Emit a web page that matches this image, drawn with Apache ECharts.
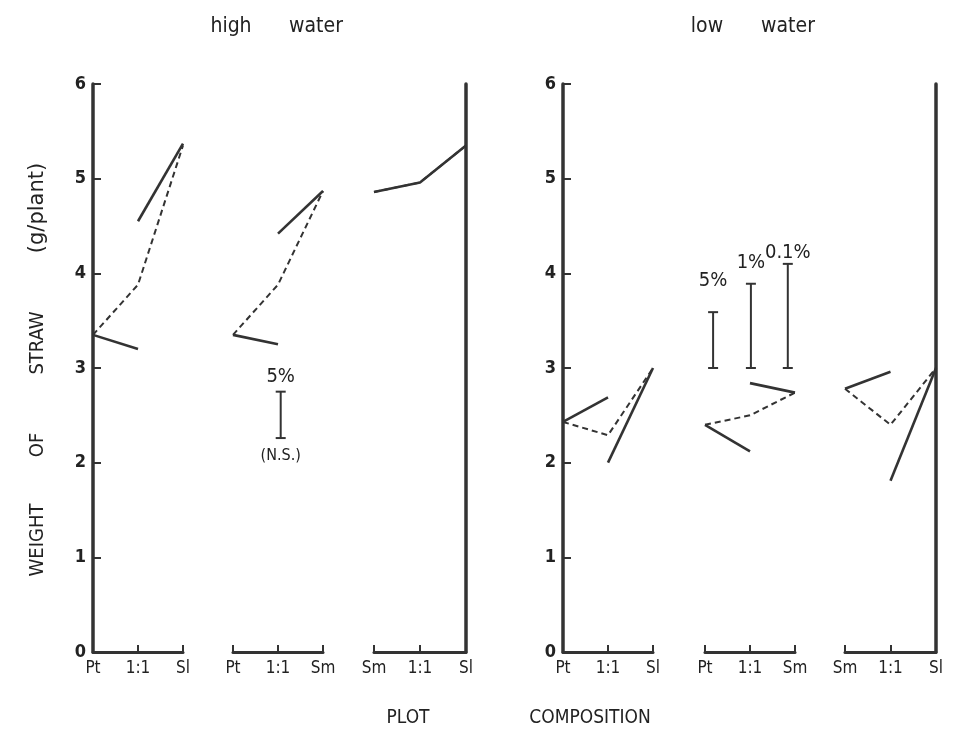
<!DOCTYPE html>
<html>
<head>
<meta charset="utf-8">
<script src="https://cdn.jsdelivr.net/npm/echarts@6/dist/echarts.min.js"></script>
<style>
html, body { margin: 0; padding: 0; background: #fff; }
#main { width: 954px; height: 742px; }
</style>
</head>
<body>
<div id="main"></div>
<script>
var compositions = [['Pt', '1:1', 'Sl'], ['Pt', '1:1', 'Sm'], ['Sm', '1:1', 'Sl']];
var yTicks = ['0', '1', '2', '3', '4', '5', '6'];

// high water, one row per composition group
var highDashed = [[3.35, 3.88, 5.35], [3.35, 3.88, 4.87], [4.86, 4.96, 5.35]];
var highSolidA = [[3.35, 3.20, null], [3.35, 3.25, null], [4.86, 4.96, 5.35]];
var highSolidB = [[null, 4.55, 5.37], [null, 4.42, 4.87], [null, null, null]];

// low water
var lowDashed = [[2.43, 2.29, 3.00], [2.40, 2.50, 2.74], [2.78, 2.40, 3.00]];
var lowSolidA = [[2.43, 2.69, null], [2.40, 2.12, null], [2.78, 2.96, null]];
var lowSolidB = [[null, 2.00, 3.00], [null, 2.84, 2.74], [null, 1.81, 3.00]];

// LSD bars (group, position along group, low, high, label, label level)
var highBars = [
	{ g: 1, x: 1.06, lo: 2.26, hi: 2.75, label: '5%', labelAt: 2.91, note: '(N.S.)', noteAt: 2.07 }
];
var lowBars = [
	{ g: 1, x: 0.18, lo: 3.00, hi: 3.59, label: '5%', labelAt: 3.92 },
	{ g: 1, x: 1.02, lo: 3.00, hi: 3.89, label: '1%', labelAt: 4.11 },
	{ g: 1, x: 1.84, lo: 3.00, hi: 4.10, label: '0.1%', labelAt: 4.22 }
];

var FONT = '"DejaVu Sans Condensed", "DejaVu Sans", sans-serif';
var INK = '#333';

// grid layout: left panel then right panel
var gridLeft = [93, 233, 374, 563, 705, 845];
var gridWidth = [90, 90, 92, 90, 90, 91];

var myChart = echarts.init(document.getElementById('main'));

var grids = [], xAxes = [], yAxes = [], series = [];

gridLeft.forEach(function (l, i) {
	var g = i % 3;
	grids.push({ left: l, width: gridWidth[i], top: 84, height: 568 });
	xAxes.push({
		type: 'value', gridIndex: i, min: 0, max: 2, interval: 1,
		axisLine: { show: true, onZero: false, lineStyle: { color: INK, width: 3 } },
		axisTick: { show: true, inside: true, length: 7, lineStyle: { color: INK, width: 2 } },
		splitLine: { show: false },
		axisLabel: {
			showMinLabel: true, showMaxLabel: true, hideOverlap: false,
			margin: 8, fontSize: 17, color: '#222', fontFamily: FONT,
			formatter: function (v) { return compositions[g][v]; }
		}
	});
	var y = {
		type: 'value', gridIndex: i, min: 0, max: 6, interval: 1,
		splitLine: { show: false },
		axisLine: { show: false, onZero: false, lineStyle: { color: INK, width: 3.5 } },
		axisTick: { show: false },
		axisLabel: { show: false }
	};
	if (g === 0) {
		y.axisLine.show = true;
		y.axisTick = { show: true, inside: true, length: 8, lineStyle: { color: INK, width: 2 } };
		y.axisLabel = {
			show: true, margin: 7, fontSize: 18, fontWeight: 'bold', color: '#222', fontFamily: FONT,
			formatter: function (v) { return yTicks[v]; }
		};
	}
	if (g === 2) {
		y.position = 'right';
		y.axisLine.show = true;
	}
	yAxes.push(y);
});

function pts(arr) {
	var out = [];
	arr.forEach(function (v, k) { if (v !== null) out.push([k, v]); });
	return out;
}

function addLines(offset, dashed, solidA, solidB) {
	for (var g = 0; g < 3; g++) {
		var idx = offset + g;
		series.push({
			type: 'line', xAxisIndex: idx, yAxisIndex: idx, symbol: 'none', silent: true,
			lineStyle: { color: INK, width: 2, type: [6, 4] }, data: pts(dashed[g])
		});
		[solidA[g], solidB[g]].forEach(function (s) {
			var d = pts(s);
			if (d.length) {
				series.push({
					type: 'line', xAxisIndex: idx, yAxisIndex: idx, symbol: 'none', silent: true,
					lineStyle: { color: INK, width: 2.6 }, data: d
				});
			}
		});
	}
}
addLines(0, highDashed, highSolidA, highSolidB);
addLines(3, lowDashed, lowSolidA, lowSolidB);

function addBars(offset, bars) {
	bars.forEach(function (b) {
		var idx = offset + b.g;
		series.push({
			type: 'custom', xAxisIndex: idx, yAxisIndex: idx, silent: true,
			data: [[b.x, b.lo, b.hi]],
			renderItem: function (params, api) {
				var top = api.coord([api.value(0), api.value(2)]);
				var bot = api.coord([api.value(0), api.value(1)]);
				var w = 5;
				var st = { stroke: INK, lineWidth: 2 };
				var kids = [
					{ type: 'line', shape: { x1: top[0], y1: top[1], x2: bot[0], y2: bot[1] }, style: st },
					{ type: 'line', shape: { x1: top[0] - w, y1: top[1], x2: top[0] + w, y2: top[1] }, style: st },
					{ type: 'line', shape: { x1: bot[0] - w, y1: bot[1], x2: bot[0] + w, y2: bot[1] }, style: st }
				];
				var lp = api.coord([api.value(0), b.labelAt]);
				kids.push({ type: 'text', x: lp[0], y: lp[1], style: {
					text: b.label, fill: '#222', font: '20px ' + FONT, align: 'center', verticalAlign: 'middle' } });
				if (b.note) {
					var np = api.coord([api.value(0), b.noteAt]);
					kids.push({ type: 'text', x: np[0], y: np[1], style: {
						text: b.note, fill: '#222', font: '16px ' + FONT, align: 'center', verticalAlign: 'middle' } });
				}
				return { type: 'group', children: kids };
			}
		});
	});
}
addBars(0, highBars);
addBars(3, lowBars);

function txt(x, y, s, size, rot, fam) {
	return {
		type: 'text', x: x, y: y, rotation: rot || 0,
		style: { text: s, fill: '#222', font: size + 'px ' + (fam || FONT), align: 'center', verticalAlign: 'middle' }
	};
}

var option = {
	animation: false,
	grid: grids,
	xAxis: xAxes,
	yAxis: yAxes,
	series: series,
	graphic: [
		txt(231, 27, 'high', 21), txt(316, 27, 'water', 21),
		txt(707, 27, 'low', 21), txt(788, 27, 'water', 21),
		txt(38, 540, 'WEIGHT', 20, Math.PI / 2),
		txt(38, 445, 'OF', 20, Math.PI / 2),
		txt(38, 343, 'STRAW', 20, Math.PI / 2),
		txt(38, 208, '(g/plant)', 21, Math.PI / 2, '"DejaVu Sans", sans-serif'),
		txt(408, 718, 'PLOT', 19), txt(590, 718, 'COMPOSITION', 19)
	]
};
myChart.setOption(option);
</script>
</body>
</html>
